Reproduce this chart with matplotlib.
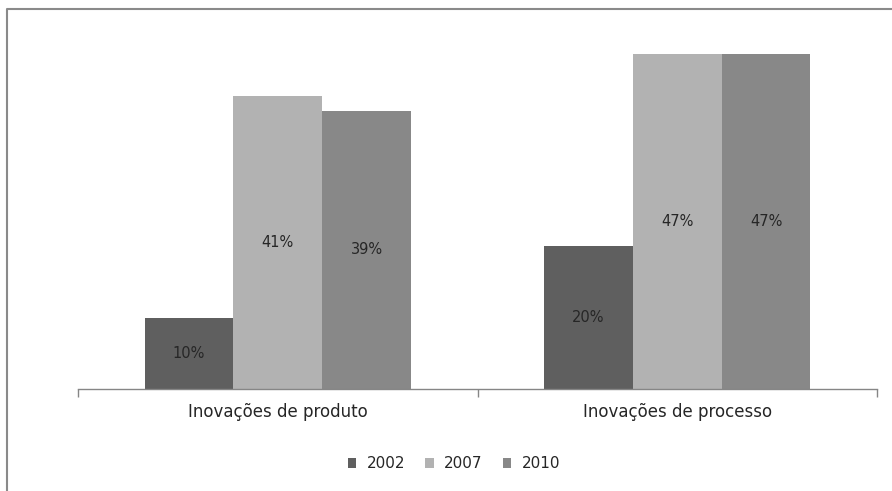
import matplotlib
matplotlib.use("Agg")
import matplotlib.pyplot as plt
import numpy as np
from matplotlib.lines import Line2D

categories = ["Inovações de produto", "Inovações de processo"]
series = ["2002", "2007", "2010"]
values = {
    "2002": [10, 20],
    "2007": [41, 47],
    "2010": [39, 47],
}
colors = {"2002": "#5f5f5f", "2007": "#b2b2b2", "2010": "#888888"}

plt.rcParams['font.family'] = ['DejaVu Sans']

W, H = 892, 491
fig = plt.figure(figsize=(W/100, H/100), dpi=100)
ax = fig.add_axes([78/W, (H-389)/H, (877-78)/W, (389-32.2)/H])

n = len(series)
bw = 1/(n + 1.5)
x = np.arange(len(categories))
for i, s in enumerate(series):
    pos = x + (i - (n-1)/2) * bw
    bars = ax.bar(pos, values[s], width=bw, color=colors[s], label=s, zorder=2)
    for b, v in zip(bars, values[s]):
        ax.text(b.get_x() + b.get_width()/2, v/2, f"{v}%", ha='center', va='center',
                fontsize=10.5, color='#262626')

ax.set_xlim(-0.5, len(categories) - 0.5)
ax.set_ylim(0, 50)
for sp in ['top', 'right', 'left']:
    ax.spines[sp].set_visible(False)
ax.spines['bottom'].set_color('#868686')
ax.spines['bottom'].set_linewidth(1.0)
ax.set_yticks([])
ax.set_xticks(np.arange(len(categories) + 1) - 0.5, minor=False)
ax.set_xticklabels([])
ax.tick_params(axis='x', length=6, color='#868686', width=1.0)
for xi, c in zip(x, categories):
    ax.text(xi, -0.065, c, transform=ax.get_xaxis_transform(), ha='center', va='center',
            fontsize=12, color='#262626')

leg = fig.legend(loc='center', bbox_to_anchor=(454/W, (H-464)/H), ncol=3, frameon=False,
                 fontsize=11, handlelength=0.55, handleheight=0.55, handletextpad=0.7,
                 columnspacing=1.3)
for t in leg.get_texts():
    t.set_color('#262626')

fig.add_artist(Line2D([7/W, 7/W, 1], [0, (H-9)/H, (H-9)/H], transform=fig.transFigure,
                      color='#8a8a8a', linewidth=1.5))

fig.savefig("out.png", dpi=100)
